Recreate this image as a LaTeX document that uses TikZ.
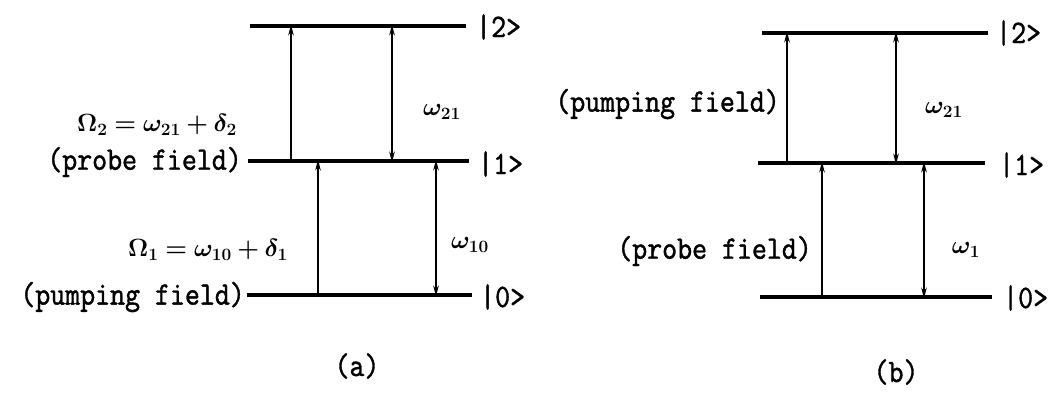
\documentclass[tikz,border=0pt]{standalone}
\usepackage{amsmath,bm}
\usepackage{fontspec}
\newfontfamily\tw{lmmono10-regular.otf}[FakeBold=1.2]
\usetikzlibrary{arrows.meta}
\begin{document}
\begin{tikzpicture}[x=1pt,y=-1pt,
  level/.style={line width=3.3pt},
  tr/.style={line width=1.8pt,-{Stealth[length=11pt,width=5.5pt]}},
  dbl/.style={line width=1.8pt,{Stealth[length=11pt,width=5.5pt]}-{Stealth[length=11pt,width=5.5pt]}},
  txt/.style={font=\fontsize{28.5}{32}\tw,inner sep=0pt},
  mth/.style={font=\fontsize{24}{28}\selectfont,inner sep=0pt}]
\useasboundingbox (0,0) rectangle (1052,394);
% ---------- (a) ----------
\coordinate (a2l) at (250,26);  \coordinate (a2r) at (466,26);
\coordinate (a1l) at (248,161); \coordinate (a1r) at (469,161);
\coordinate (a0l) at (247,295); \coordinate (a0r) at (472,295);
\draw[level] (a2l) -- (a2r);
\draw[level] (a1l) -- (a1r);
\draw[level] (a0l) -- (a0r);
\node[txt,anchor=west] (ak2) at (476,27) {\scalebox{1}[1.15]{|2>}};
\node[txt,anchor=west] (ak1) at (478,164) {\scalebox{1}[1.15]{|1>}};
\node[txt,anchor=west] (ak0) at (480,297) {\scalebox{1}[1.15]{|0>}};
\coordinate (aA1) at (291,161); \coordinate (aA2) at (291,26);
\coordinate (aB1) at (392,161); \coordinate (aB2) at (392,26);
\coordinate (aC0) at (318,295); \coordinate (aC1) at (318,161);
\coordinate (aD0) at (436,295); \coordinate (aD1) at (436,161);
\draw[tr] (aA1) -- ([yshift=1.6pt]aA2);
\draw[dbl] ([yshift=-1.6pt]aB1) -- ([yshift=1.6pt]aB2);
\draw[tr] (aC0) -- ([yshift=1.6pt]aC1);
\draw[dbl] ([yshift=-1.6pt]aD0) -- ([yshift=1.6pt]aD1);
\node[mth] (aOm2) at (157,125) {$\bm{\Omega_2 = \omega_{21} + \delta_2}$};
\node[txt,anchor=east] (apr) at (242,162) {\scalebox{1}[1.15]{(probe field)}};
\node[mth] (aOm1) at (208,250) {$\bm{\Omega_1 = \omega_{10} + \delta_1}$};
\node[txt,anchor=east] (apu) at (245,297) {\scalebox{1}[1.15]{(pumping field)}};
\node[mth] (aw21) at (442,112) {$\bm{\omega_{21}}$};
\node[mth] (aw10) at (470,245) {$\bm{\omega_{10}}$};
\node[txt] (capa) at (357,366) {\scalebox{1}[1.15]{(a)}};
% ---------- (b) ----------
\coordinate (b2l) at (762,33);  \coordinate (b2r) at (988,33);
\coordinate (b1l) at (758,163); \coordinate (b1r) at (985,163);
\coordinate (b0l) at (760,297); \coordinate (b0r) at (992,297);
\draw[level] (b2l) -- (b2r);
\draw[level] (b1l) -- (b1r);
\draw[level] (b0l) -- (b0r);
\node[txt,anchor=west] (bk2) at (996,33) {\scalebox{1}[1.15]{|2>}};
\node[txt,anchor=west] (bk1) at (999,165) {\scalebox{1}[1.15]{|1>}};
\node[txt,anchor=west] (bk0) at (1003,298) {\scalebox{1}[1.15]{|0>}};
\coordinate (bA1) at (787,163); \coordinate (bA2) at (787,33);
\coordinate (bB1) at (896,163); \coordinate (bB2) at (896,33);
\coordinate (bC0) at (822,297); \coordinate (bC1) at (822,163);
\coordinate (bD0) at (924,297); \coordinate (bD1) at (924,163);
\draw[tr] (bA1) -- ([yshift=1.6pt]bA2);
\draw[dbl] ([yshift=-1.6pt]bB1) -- ([yshift=1.6pt]bB2);
\draw[tr] (bC0) -- ([yshift=1.6pt]bC1);
\draw[dbl] ([yshift=-1.6pt]bD0) -- ([yshift=1.6pt]bD1);
\node[txt,anchor=east] (bpu) at (780,104) {\scalebox{1}[1.15]{(pumping field)}};
\node[txt,anchor=east] (bpr) at (812,251) {\scalebox{1}[1.15]{(probe field)}};
\node[mth] (bw21) at (944,110) {$\bm{\omega_{21}}$};
\node[mth] (bw1) at (966,250) {$\bm{\omega_1}$};
\node[txt] (capb) at (896,372) {\scalebox{1}[1.15]{(b)}};
\end{tikzpicture}
\end{document}
